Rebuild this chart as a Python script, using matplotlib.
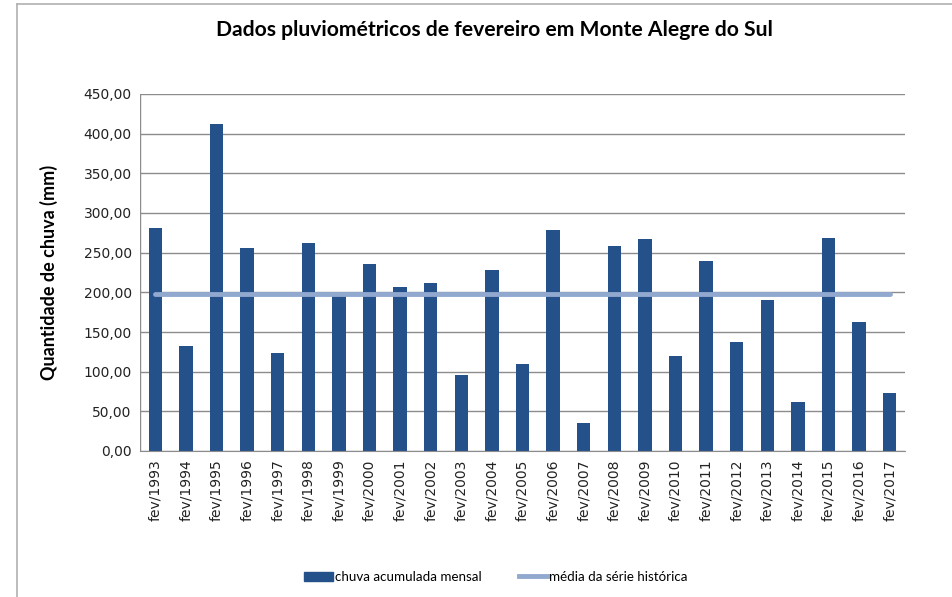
import matplotlib.pyplot as plt
from matplotlib.lines import Line2D

anos = ['fev/1993', 'fev/1994', 'fev/1995', 'fev/1996', 'fev/1997', 'fev/1998',
        'fev/1999', 'fev/2000', 'fev/2001', 'fev/2002', 'fev/2003', 'fev/2004',
        'fev/2005', 'fev/2006', 'fev/2007', 'fev/2008', 'fev/2009', 'fev/2010',
        'fev/2011', 'fev/2012', 'fev/2013', 'fev/2014', 'fev/2015', 'fev/2016',
        'fev/2017']
chuva = [280.7, 131.9, 412.2, 255.5, 123.1, 261.8, 196.6, 235.7, 206.3, 211.8,
         95.8, 228.2, 109.7, 278.6, 35.3, 258.4, 267.2, 119.7, 239.5, 137.4,
         190.3, 61.8, 268.5, 162.6, 73.1]
media = [198.3] * len(anos)
yticks = [0, 50, 100, 150, 200, 250, 300, 350, 400, 450]

cor_barra = '#25518a'
cor_media = '#91a8cf'

fig = plt.figure(figsize=(9.52, 5.97), dpi=100)
ax = fig.add_axes([140 / 952, 1 - 451 / 597, 765 / 952, 357 / 597])

x = list(range(len(anos)))
ax.bar(x, chuva, width=0.44, color=cor_barra, zorder=2)
ax.plot(x, media, color=cor_media, linewidth=3.5, solid_capstyle='round', zorder=3)

ax.set_xlim(-0.5, len(anos) - 0.5)
ax.set_ylim(0, 450)
ax.set_yticks(yticks)
ax.set_yticklabels([f'{v:.2f}'.replace('.', ',') for v in yticks], fontsize=10, color='#222222')
ax.set_xticks(x)
ax.set_xticklabels(anos, rotation=90, fontsize=10, color='#222222')
ax.tick_params(axis='both', length=0, pad=6)
ax.grid(axis='y', color='#8c8c8c', linewidth=1, zorder=0)
for s in ['top', 'right', 'left']:
    ax.spines[s].set_visible(False)
ax.spines['bottom'].set_color('#8c8c8c')
ax.axvline(-0.5, color='#8c8c8c', linewidth=1, zorder=1)

ax.set_ylabel('Quantidade de chuva (mm)', fontsize=13, fontweight='bold',
              family='Lato', labelpad=18)
fig.text(494 / 952, 1 - 30 / 597, 'Dados pluviométricos de fevereiro em Monte Alegre do Sul',
         ha='center', va='center', fontsize=15.2, fontweight='bold', family='Lato')

handles = [plt.Rectangle((0, 0), 1, 1, color=cor_barra),
           Line2D([0], [0], color=cor_media, linewidth=3.5)]
fig.legend(handles, ['chuva acumulada mensal', 'média da série histórica'],
           loc='center', bbox_to_anchor=(496 / 952, 1 - 577 / 597), ncol=2,
           frameon=False, prop={'family': 'Lato', 'size': 9.6},
           handlelength=2.2, handletextpad=0.1, columnspacing=2.8)

# moldura do gráfico
fig.add_artist(Line2D([17 / 952, 1], [1 - 4 / 597, 1 - 4 / 597], color='#b0b0b0', linewidth=1.2))
fig.add_artist(Line2D([17 / 952, 17 / 952], [0, 1 - 4 / 597], color='#b0b0b0', linewidth=1.2))

fig.savefig('out.png', dpi=100)
